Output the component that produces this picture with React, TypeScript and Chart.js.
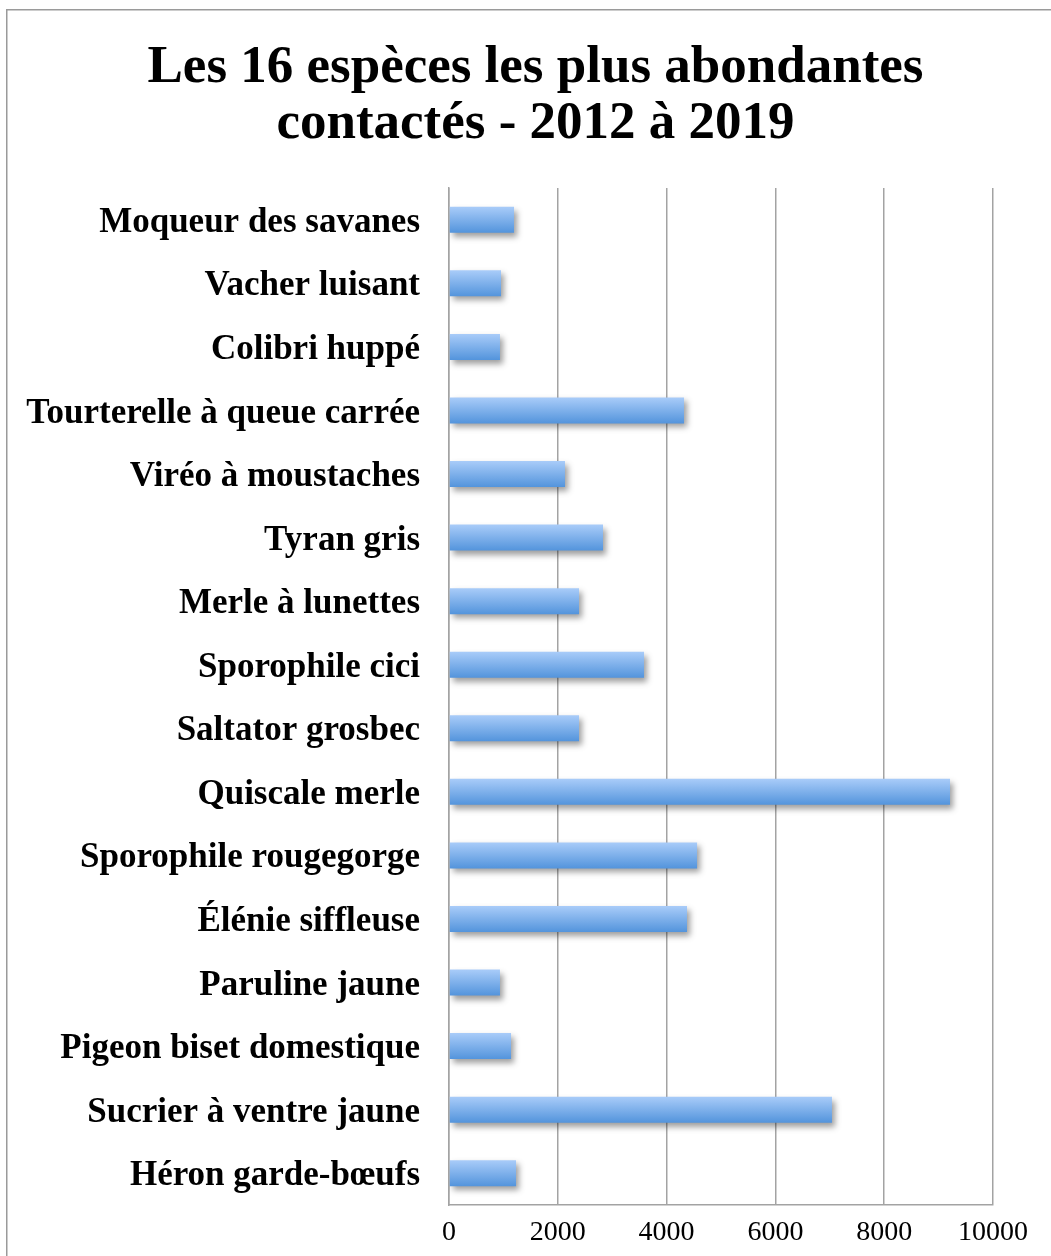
import React, { useEffect, useRef } from "react";
import { Chart, registerables } from "chart.js";

Chart.register(...registerables);

const titleLines = ["Les 16 espèces les plus abondantes", "contactés - 2012 à 2019"];

const species = [
  "Moqueur des savanes",
  "Vacher luisant",
  "Colibri huppé",
  "Tourterelle à queue carrée",
  "Viréo à moustaches",
  "Tyran gris",
  "Merle à lunettes",
  "Sporophile cici",
  "Saltator grosbec",
  "Quiscale merle",
  "Sporophile rougegorge",
  "Élénie siffleuse",
  "Paruline jaune",
  "Pigeon biset domestique",
  "Sucrier à ventre jaune",
  "Héron garde-bœufs",
];

const counts = [1195, 956, 937, 4320, 2132, 2831, 2390, 3585, 2390, 9210, 4560, 4375, 937, 1140, 7040, 1232];

const xTickMin = 0;
const xTickMax = 10000;
const xTickStep = 2000;

const BAR_FRACTION = 0.41;
const GRID = "#a3a3a3";
const FONT = "'Liberation Serif', serif";

const shadowPlugin = {
  id: "barShadow",
  beforeDatasetsDraw(chart: any) {
    const ctx = chart.ctx;
    ctx.save();
    ctx.shadowColor = "rgba(0,0,0,0.38)";
    ctx.shadowBlur = 6;
    ctx.shadowOffsetX = 3;
    ctx.shadowOffsetY = 4;
  },
  afterDatasetsDraw(chart: any) {
    chart.ctx.restore();
  },
};

const framePlugin = {
  id: "frame",
  afterDraw(chart: any) {
    const ctx = chart.ctx;
    ctx.save();
    ctx.strokeStyle = "#9a9a9a";
    ctx.lineWidth = 1.5;
    ctx.strokeRect(6.75, 9.75, 3000, 3000);
    ctx.restore();
  },
};

const titlePlugin = {
  id: "customTitle",
  afterDraw(chart: any) {
    const ctx = chart.ctx;
    ctx.save();
    ctx.fillStyle = "#000";
    ctx.font = `bold 53px ${FONT}`;
    ctx.textAlign = "center";
    ctx.textBaseline = "middle";
    titleLines.forEach((line, i) => {
      ctx.fillText(line, 535.5, 68 + i * 56);
    });
    ctx.restore();
  },
};

export default function App() {
  const ref = useRef<HTMLCanvasElement | null>(null);

  useEffect(() => {
    if (!ref.current) return;
    const chart = new Chart(ref.current, {
      type: "bar",
      data: {
        labels: species,
        datasets: [
          {
            data: counts,
            backgroundColor: (c: any) => {
              const ch = c.chart;
              const area = ch.chartArea;
              if (!area || !ch.scales.y) return "#7aaeea";
              const yc = ch.scales.y.getPixelForValue(c.dataIndex);
              const h = (area.height / species.length) * BAR_FRACTION;
              const g = ch.ctx.createLinearGradient(0, yc - h / 2, 0, yc + h / 2);
              g.addColorStop(0, "#a9ccf9");
              g.addColorStop(1, "#5394dc");
              return g;
            },
            borderWidth: 0,
            barPercentage: BAR_FRACTION,
            categoryPercentage: 1,
          },
        ],
      },
      options: {
        indexAxis: "y",
        animation: false,
        responsive: false,
        layout: { padding: { left: 0, right: 58, top: 188, bottom: 0 } },
        plugins: {
          legend: { display: false },
          tooltip: { enabled: false },
          title: { display: false },
        },
        scales: {
          x: {
            min: xTickMin,
            max: xTickMax,
            ticks: {
              stepSize: xTickStep,
              color: "#000",
              padding: 11,
              font: { family: FONT, size: 28 },
              callback: (v: any) => String(v),
            },
            grid: { color: GRID, lineWidth: 1.5, drawTicks: false },
            border: { display: true, color: GRID, width: 1.5 },
            afterFit(scale: any) {
              scale.height = 51;
            },
          },
          y: {
            ticks: {
              color: "#000",
              padding: 29,
              labelOffset: 3,
              font: { family: FONT, size: 35, weight: "bold" },
            },
            grid: { display: false, drawTicks: false },
            border: { display: true, color: GRID, width: 1.5 },
            afterFit(scale: any) {
              scale.width = 449;
            },
          },
        },
      },
      plugins: [shadowPlugin, framePlugin, titlePlugin],
    });
    return () => chart.destroy();
  }, []);

  return (
    <div style={{ position: "absolute", left: 0, top: 0, width: 1051, height: 1256, background: "#fff" }}>
      <canvas ref={ref} width={1051} height={1256} />
    </div>
  );
}
